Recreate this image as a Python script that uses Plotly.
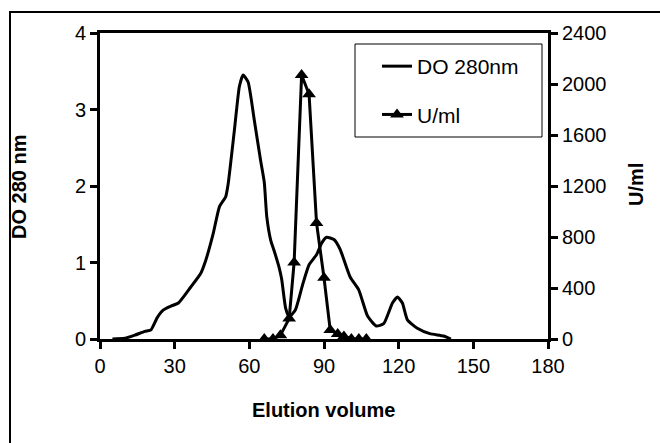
import plotly.graph_objects as go

# DO 280nm (left axis)
do_x = [5, 10, 14, 18, 20.5, 23, 25.5, 28.5, 31.5, 36.5, 40.5, 42.5, 45.5, 48, 50.5, 51.5,
        54, 56, 57.5, 59.5, 62, 64.5, 66, 67, 68.6, 70, 72, 73, 74.6, 76, 78.5, 81.5, 84,
        87, 89, 91, 94, 96.5, 100.5, 104, 107.5, 111, 114, 117.5, 119.5, 121.5, 123.5,
        127.5, 132.5, 138, 141]
do_y = [0, 0.01, 0.05, 0.1, 0.12, 0.28, 0.38, 0.43, 0.47, 0.68, 0.86, 1.03, 1.38, 1.73, 1.86, 2.03,
        2.73, 3.3, 3.45, 3.36, 2.86, 2.34, 2.05, 1.6, 1.29, 1.15, 0.93, 0.78, 0.4, 0.29, 0.38, 0.72, 0.97,
        1.1, 1.25, 1.33, 1.3, 1.17, 0.81, 0.64, 0.3, 0.17, 0.2, 0.47, 0.55, 0.47, 0.25,
        0.14, 0.07, 0.04, 0]

# U/ml (right axis)
u_x = [66, 69.5, 72.5, 76, 78, 81, 84, 87, 90, 92.5, 95.5, 98, 101, 104, 107]
u_y = [0, 0, 30, 160, 600, 2070, 1920, 910, 480, 70, 40, 20, 0, 0, 0]

x_ticks = [0, 30, 60, 90, 120, 150, 180]
y_left_ticks = [0, 1, 2, 3, 4]
y_right_ticks = [0, 400, 800, 1200, 1600, 2000, 2400]

FONT = "Liberation Sans, Arial, sans-serif"

fig = go.Figure()
fig.add_trace(go.Scatter(x=do_x, y=do_y, mode="lines", name="DO 280nm",
                         line=dict(color="black", width=3, shape="spline", smoothing=0.5),
                         legendgroup="a", yaxis="y"))
fig.add_trace(go.Scatter(x=u_x, y=u_y, mode="lines+markers", name="U/ml",
                         line=dict(color="black", width=3),
                         marker=dict(symbol="triangle-up", size=12, color="black"),
                         legendgroup="b", yaxis="y2"))

L, R, T, B = 100, 112, 33, 104
W, H = 660, 443
pw, ph = W - L - R, H - T - B

def px_x(p):
    return (p - L) / pw

def px_y(p):
    return (H - B - p) / ph

axis_common = dict(showgrid=False, zeroline=False, linecolor="black", linewidth=3,
                   ticks="outside", ticklen=7, tickwidth=2.5, tickcolor="black",
                   tickfont=dict(family=FONT, size=20, color="black"))

fig.update_layout(
    width=W, height=H,
    margin=dict(l=L, r=R, t=T, b=B),
    paper_bgcolor="white", plot_bgcolor="white",
    xaxis=dict(range=[0, 180], tickvals=x_ticks, mirror=True, **axis_common),
    yaxis=dict(range=[0, 4], tickvals=y_left_ticks, **axis_common),
    yaxis2=dict(range=[0, 2400], tickvals=y_right_ticks, overlaying="y", side="right",
                anchor="x", **axis_common),
    showlegend=True,
    legend=dict(x=px_x(377), y=px_y(46), xanchor="left", yanchor="top",
                bgcolor="rgba(0,0,0,0)", borderwidth=0, tracegroupgap=18,
                font=dict(family=FONT, size=21, color="black")),
    shapes=[
        dict(type="rect", xref="paper", yref="paper",
             x0=px_x(355), x1=px_x(542), y0=px_y(137), y1=px_y(44),
             line=dict(color="black", width=1), fillcolor="white", layer="below"),
        dict(type="rect", xref="paper", yref="paper",
             x0=px_x(10), x1=px_x(720), y0=px_y(520), y1=px_y(12),
             line=dict(color="black", width=2), fillcolor="rgba(0,0,0,0)"),
    ],
    annotations=[
        dict(text="<b>DO 280 nm</b>", xref="paper", yref="paper", x=px_x(19), y=px_y(187),
             textangle=-90, showarrow=False, xanchor="center", yanchor="middle",
             font=dict(family=FONT, size=20, color="black")),
        dict(text="<b>U/ml</b>", xref="paper", yref="paper", x=px_x(636), y=px_y(185),
             textangle=-90, showarrow=False, xanchor="center", yanchor="middle",
             font=dict(family=FONT, size=20, color="black")),
        dict(text="<b>Elution volume</b>", xref="paper", yref="paper", x=px_x(323),
             y=px_y(410), showarrow=False, xanchor="center", yanchor="middle",
             font=dict(family=FONT, size=20, color="black")),
    ],
)

fig.write_html("out.html")
